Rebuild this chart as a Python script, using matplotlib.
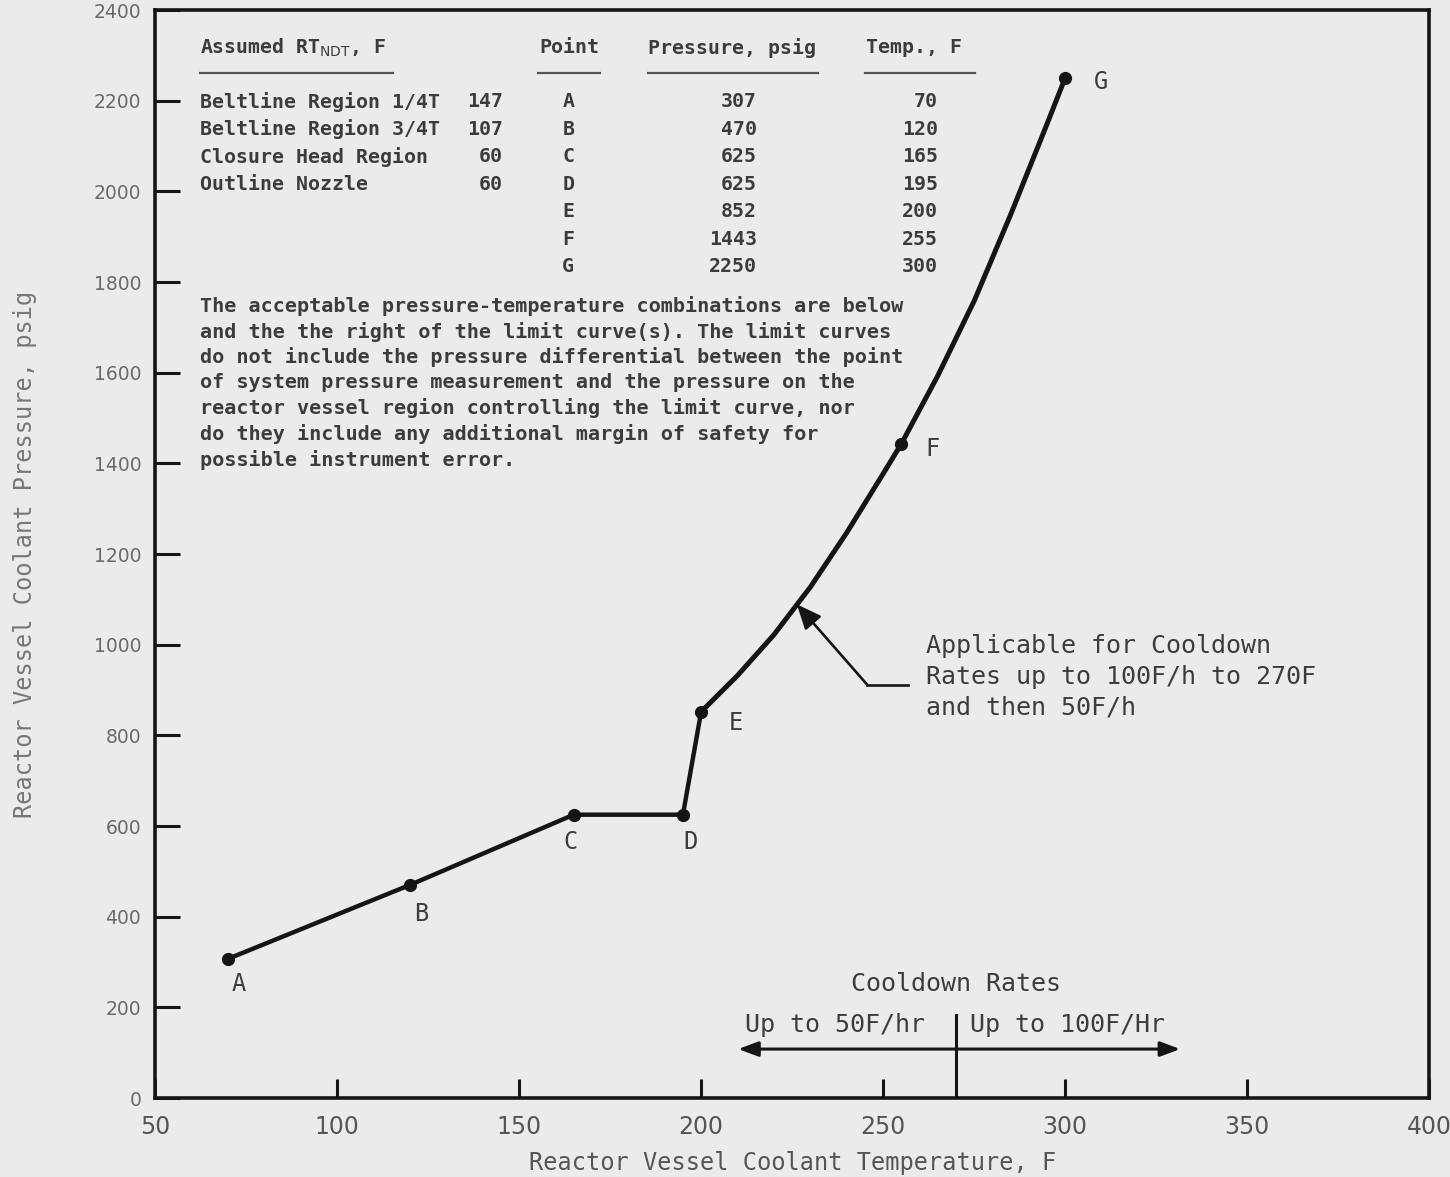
import matplotlib
matplotlib.use('Agg')
import matplotlib.pyplot as plt

# limit curve break points (table values)
point_names = ['A', 'B', 'C', 'D', 'E', 'F', 'G']
point_temp = [70, 120, 165, 195, 200, 255, 300]
point_psig = [307, 470, 625, 625, 852, 1443, 2250]

# curved part of the limit curve from E through F to G
curve_temp = [200, 210, 220, 230, 240, 250, 255, 265, 275, 285, 295, 300]
curve_psig = [852, 932, 1022, 1127, 1247, 1377, 1443, 1593, 1758, 1948, 2148, 2250]

# RT_NDT table
regions = ['Beltline Region 1/4T', 'Beltline Region 3/4T', 'Closure Head Region', 'Outline Nozzle']
rt_ndt = [147, 107, 60, 60]

note = ('The acceptable pressure-temperature combinations are below\n'
        'and the the right of the limit curve(s). The limit curves\n'
        'do not include the pressure differential between the point\n'
        'of system pressure measurement and the pressure on the\n'
        'reactor vessel region controlling the limit curve, nor\n'
        'do they include any additional margin of safety for\n'
        'possible instrument error.')

xticks = [50, 100, 150, 200, 250, 300, 350, 400]
yticks = list(range(0, 2401, 200))
rate_switch_temp = 270

bg = '#ebebeb'
ink = '#151515'
txt = '#3c3c3c'
mono = 'DejaVu Sans Mono'

fig = plt.figure(figsize=(14.5, 11.77), dpi=100, facecolor=bg)
ax = fig.add_axes([0.107, 0.0671, 0.8786, 0.9244], facecolor=bg)
ax.set_xlim(50, 400)
ax.set_ylim(0, 2400)

for s in ax.spines.values():
    s.set_linewidth(2.6)
    s.set_color(ink)

ax.set_xticks(xticks)
ax.set_yticks(yticks)
ax.tick_params(axis='both', direction='in', width=2.2, color=ink)
ax.tick_params(axis='x', length=14, pad=12, labelsize=17, labelcolor='#555555')
ax.tick_params(axis='y', length=18, pad=10, labelsize=13.5, labelcolor='#6a6a6a')
ax.set_xlabel('Reactor Vessel Coolant Temperature, F', family=mono, fontsize=17,
              color='#555555', labelpad=9)
ax.set_ylabel('Reactor Vessel Coolant Pressure, psig', family=mono, fontsize=17,
              color='#777777')
ax.yaxis.set_label_coords(-0.093, 0.5)

# limit curve
ax.plot(point_temp[:5], point_psig[:5], color=ink, lw=3.2, solid_capstyle='round', zorder=3)
ax.plot(curve_temp, curve_psig, color=ink, lw=3.6, solid_joinstyle='round', zorder=3)
ax.plot(point_temp, point_psig, 'o', color=ink, ms=8.5, zorder=4)

label_off = {'A': (3, -55), 'B': (3, -65), 'C': (-1, -60), 'D': (2, -60),
             'E': (7.5, -25), 'F': (6.5, -12), 'G': (8, -8)}
for n, t, p in zip(point_names, point_temp, point_psig):
    dx, dy = label_off[n]
    ax.text(t + dx, p + dy, n, family=mono, fontsize=17, color=txt,
            ha='left' if n in 'EFG' else 'center', va='center')

# table
tx = dict(family=mono, fontsize=14.3, color=txt, fontweight='bold')
hy = 2317
ax.text(62.4, hy, r'Assumed RT$_{\mathrm{NDT}}$, F', **tx, va='center')
ax.text(163.7, hy, 'Point', **tx, ha='center', va='center')
ax.text(185.4, hy, 'Pressure, psig', **tx, va='center')
ax.text(245.3, hy, 'Temp., F', **tx, va='center')
for x0, x1 in [(62.4, 115.4), (155.2, 172.3), (185.4, 232.1), (245.1, 275.3)]:
    ax.plot([x0, x1], [2262, 2262], color='#555555', lw=1.6)

row_y = 2198
row_dy = 60.8
for i, (r, v) in enumerate(zip(regions, rt_ndt)):
    y = row_y - i * row_dy
    ax.text(62.4, y, r, **tx, va='center')
    ax.text(145.6, y, str(v), **tx, ha='right', va='center')
for i, (n, t, p) in enumerate(zip(point_names, point_temp, point_psig)):
    y = row_y - i * row_dy
    ax.text(163.5, y, n, **tx, ha='center', va='center')
    ax.text(215.4, y, str(p), **tx, ha='right', va='center')
    ax.text(265.1, y, str(t), **tx, ha='right', va='center')

ax.text(62.4, 1770, note, family=mono, fontsize=14.5, color=txt, fontweight='bold',
        va='top', linespacing=1.37)

# callout for the curve
ax.annotate('', xy=(226.3, 1089), xytext=(245.7, 911),
            arrowprops=dict(arrowstyle='-|>,head_length=1.5,head_width=0.65',
                            color=ink, lw=1.9, shrinkA=0, shrinkB=0))
ax.plot([245.7, 256.8], [911, 911], color=ink, lw=1.9)
ax.text(261.8, 929, 'Applicable for Cooldown\nRates up to 100F/h to 270F\nand then 50F/h',
        family=mono, fontsize=18, color=txt, va='center', linespacing=1.37)

# cooldown rate band
ax.plot([rate_switch_temp, rate_switch_temp], [0, 183], color=ink, lw=2.2)
ax.annotate('', xy=(210.2, 108), xytext=(rate_switch_temp, 108),
            arrowprops=dict(arrowstyle='-|>,head_length=1.2,head_width=0.45',
                            color=ink, lw=2.2, shrinkA=0, shrinkB=0))
ax.annotate('', xy=(331.6, 108), xytext=(rate_switch_temp, 108),
            arrowprops=dict(arrowstyle='-|>,head_length=1.2,head_width=0.45',
                            color=ink, lw=2.2, shrinkA=0, shrinkB=0))
ax.text(rate_switch_temp, 252, 'Cooldown Rates', family=mono, fontsize=18, color=txt,
        ha='center', va='center')
ax.text(rate_switch_temp - 8.5, 160, 'Up to 50F/hr', family=mono, fontsize=18, color=txt,
        ha='right', va='center')
ax.text(rate_switch_temp + 4, 160, 'Up to 100F/Hr', family=mono, fontsize=18, color=txt,
        ha='left', va='center')

fig.savefig('out.png', dpi=100, facecolor=bg)
